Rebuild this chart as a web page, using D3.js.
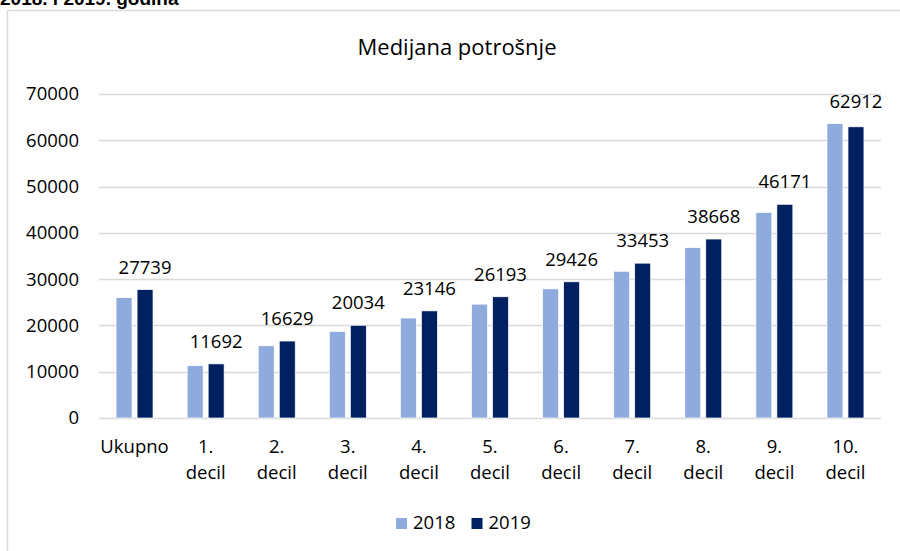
<!DOCTYPE html>
<html>
<head>
<meta charset="utf-8">
<script src="https://cdn.jsdelivr.net/npm/d3@7"></script>
<style>
  body { margin: 0; background: #fff; }
  text { font-family: "Open Sans", sans-serif; fill: #000; }
</style>
</head>
<body>
<svg id="chart" width="900" height="551"></svg>
<script>
var categories = [["Ukupno"], ["1.", "decil"], ["2.", "decil"], ["3.", "decil"], ["4.", "decil"],
  ["5.", "decil"], ["6.", "decil"], ["7.", "decil"], ["8.", "decil"], ["9.", "decil"], ["10.", "decil"]];
var years = ["2018", "2019"];
var values2018 = [26000, 11300, 15600, 18700, 21600, 24600, 27900, 31700, 36800, 44400, 63600];
var values2019 = [27739, 11692, 16629, 20034, 23146, 26193, 29426, 33453, 38668, 46171, 62912];
var yTicks = [0, 10000, 20000, 30000, 40000, 50000, 60000, 70000];
var colors = ["#8faadc", "#002060"];

var svg = d3.select("#chart");
var plotLeft = 99, plotRight = 881, plotTop = 94, plotBottom = 418;
var fs = "18.5px";

// outer frame (partially cropped)
svg.append("path")
  .attr("d", "M7.5,551 V10.5 H900")
  .attr("fill", "none")
  .attr("stroke", "#d9d9d9")
  .attr("stroke-width", 1.5);

svg.append("text")
  .attr("x", 0).attr("y", 5)
  .style("font-family", "Liberation Sans, Arial, sans-serif")
  .style("font-weight", "bold")
  .style("font-size", "19px")
  .text("2018. i 2019. godina");

svg.append("text")
  .attr("x", 457).attr("y", 55)
  .attr("text-anchor", "middle")
  .style("font-size", "22px")
  .text("Medijana potrošnje");

var x0 = d3.scaleBand().domain(d3.range(categories.length)).range([plotLeft, plotRight])
  .paddingInner(0.48).paddingOuter(0.24);
var x1 = d3.scaleBand().domain(years).range([0, x0.bandwidth()]).paddingInner(0.24);
var y = d3.scaleLinear().domain([0, 70000]).range([plotBottom, plotTop]);

// gridlines
svg.append("g")
  .attr("class", "grid")
  .selectAll("line")
  .data(yTicks)
  .enter().append("line")
  .attr("x1", plotLeft).attr("x2", plotRight)
  .attr("y1", function (d) { return Math.round(y(d)) + 0.5; })
  .attr("y2", function (d) { return Math.round(y(d)) + 0.5; })
  .attr("stroke", "#d9d9d9")
  .attr("stroke-width", 1.3);

// y axis labels
var yAxis = svg.append("g")
  .attr("transform", "translate(" + (plotLeft - 20) + ",0)")
  .call(d3.axisLeft(y).tickValues(yTicks).tickSize(0).tickPadding(0).tickFormat(d3.format("d")));
yAxis.select(".domain").remove();
yAxis.selectAll("text")
  .style("font-family", "Open Sans, sans-serif")
  .style("font-size", fs)
  .attr("fill", "#000");

var series = [values2018, values2019];

var groups = svg.selectAll(".group")
  .data(categories)
  .enter().append("g")
  .attr("class", "group")
  .attr("transform", function (d, i) { return "translate(" + x0(i) + ",0)"; });

groups.selectAll("rect")
  .data(function (d, i) { return years.map(function (yr, j) { return { year: yr, value: series[j][i], j: j }; }); })
  .enter().append("rect")
  .attr("x", function (d) { return x1(d.year); })
  .attr("width", x1.bandwidth())
  .attr("y", function (d) { return y(d.value); })
  .attr("height", function (d) { return plotBottom - y(d.value); })
  .attr("fill", function (d) { return colors[d.j]; })
  .attr("stroke", "#fff")
  .attr("stroke-width", 0.7);

// data labels on 2019 bars
groups.append("text")
  .attr("x", x1("2019") + x1.bandwidth() / 2)
  .attr("y", function (d, i) { return y(Math.max(values2019[i], values2018[i])) - 16; })
  .attr("text-anchor", "middle")
  .style("font-size", fs)
  .text(function (d, i) { return values2019[i]; });

// category labels
groups.append("text")
  .attr("x", x0.bandwidth() / 2)
  .attr("y", 453)
  .attr("text-anchor", "middle")
  .style("font-size", fs)
  .selectAll("tspan")
  .data(function (d) { return d; })
  .enter().append("tspan")
  .attr("x", x0.bandwidth() / 2)
  .attr("dy", function (d, i) { return i === 0 ? 0 : 26; })
  .text(function (d) { return d; });

// legend
var legendX = [396, 471.5];
var legend = svg.selectAll(".legend")
  .data(years)
  .enter().append("g")
  .attr("class", "legend")
  .attr("transform", function (d, i) { return "translate(" + legendX[i] + ",518)"; });
legend.append("rect")
  .attr("width", 11).attr("height", 11)
  .attr("fill", function (d, i) { return colors[i]; });
legend.append("text")
  .attr("x", 17).attr("y", 10.5)
  .style("font-size", fs)
  .text(function (d) { return d; });
</script>
</body>
</html>
